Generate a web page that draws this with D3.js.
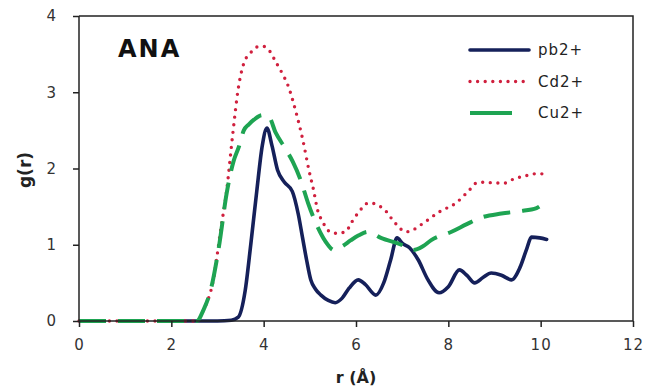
<!DOCTYPE html>
<html>
<head>
<meta charset="utf-8">
<script src="https://cdn.jsdelivr.net/npm/d3@7"></script>
<style>
  body { margin: 0; background: #fff; }
  svg { display: block; }
  .axis text { font-family: "DejaVu Sans", sans-serif; font-size: 15px; fill: #333; letter-spacing: 1px; }
  .axis path, .axis line { stroke: #222; stroke-width: 1.5; }
</style>
</head>
<body>
<svg id="chart"></svg>
<script>
let w = 646
let h = 387
let margin = { top: 16, right: 13, bottom: 66, left: 79 }

// series values
let pbR = [2.2, 3.0, 3.3, 3.45, 3.6, 3.72, 3.85, 3.97, 4.07, 4.18, 4.3, 4.45, 4.62, 4.75, 4.84, 4.93, 5.02, 5.12, 5.24, 5.4, 5.55, 5.7, 5.85, 6.05, 6.2, 6.43, 6.6, 6.75, 6.89, 7.0, 7.16, 7.35, 7.55, 7.8, 8.0, 8.24, 8.4, 8.57, 8.75, 8.93, 9.15, 9.37, 9.55, 9.7, 9.8, 9.98, 10.13]
let pbG = [0, 0, 0.01, 0.05, 0.4, 1.0, 1.7, 2.3, 2.53, 2.3, 1.98, 1.82, 1.7, 1.4, 1.1, 0.8, 0.54, 0.42, 0.34, 0.27, 0.24, 0.3, 0.43, 0.54, 0.48, 0.34, 0.5, 0.8, 1.09, 1.02, 0.96, 0.8, 0.55, 0.37, 0.45, 0.67, 0.6, 0.5, 0.57, 0.63, 0.6, 0.54, 0.7, 0.95, 1.1, 1.09, 1.07]

let cdR = [0, 2.55, 2.7, 2.91, 3.07, 3.2, 3.33, 3.45, 3.57, 3.72, 3.9, 4.0, 4.13, 4.26, 4.4, 4.52, 4.7, 4.85, 4.98, 5.08, 5.17, 5.28, 5.39, 5.57, 5.78, 5.89, 6.05, 6.28, 6.47, 6.65, 6.8, 7.09, 7.25, 7.45, 7.8, 8.17, 8.46, 8.61, 8.8, 9.0, 9.22, 9.44, 9.65, 9.85, 10.09]
let cdG = [0, 0, 0.15, 0.54, 1.2, 1.72, 2.45, 3.05, 3.38, 3.52, 3.6, 3.6, 3.54, 3.4, 3.25, 3.1, 2.74, 2.37, 1.98, 1.72, 1.45, 1.3, 1.19, 1.15, 1.17, 1.28, 1.42, 1.55, 1.52, 1.44, 1.32, 1.17, 1.2, 1.28, 1.43, 1.55, 1.72, 1.81, 1.82, 1.81, 1.81, 1.87, 1.9, 1.93, 1.93]

let cuR = [0, 2.55, 2.7, 2.85, 3.03, 3.2, 3.35, 3.46, 3.57, 3.68, 3.79, 3.97, 4.11, 4.26, 4.45, 4.63, 4.8, 4.96, 5.17, 5.39, 5.52, 5.7, 5.89, 6.05, 6.26, 6.54, 6.98, 7.24, 7.45, 7.63, 8.07, 8.4, 8.68, 9.15, 9.55, 9.91, 9.97]
let cuG = [0, 0, 0.15, 0.4, 0.97, 1.68, 2.1, 2.28, 2.5, 2.58, 2.64, 2.7, 2.68, 2.47, 2.28, 2.09, 1.85, 1.55, 1.23, 1.0, 0.93, 0.98, 1.06, 1.12, 1.17, 1.09, 1.0, 0.93, 0.98, 1.06, 1.17, 1.27, 1.35, 1.41, 1.44, 1.48, 1.5]

let xTicks = [0, 2, 4, 6, 8, 10, 12]
let yTicks = [0, 1, 2, 3, 4]
let seriesNames = ["pb2+", "Cd2+", "Cu2+"]

let series = [
    { name: seriesNames[0], r: pbR, g: pbG, color: "#15205a", width: 3.6, dash: null, cap: "round" },
    { name: seriesNames[1], r: cdR, g: cdG, color: "#d0203e", width: 3.4, dash: "0,7.6", cap: "round" },
    { name: seriesNames[2], r: cuR, g: cuG, color: "#1ea452", width: 4, dash: "27,12", cap: "butt" }
]

let svg = d3.select("#chart")
    .attr("width", w)
    .attr("height", h)

let x = d3.scaleLinear().domain([0, 12]).range([margin.left, w - margin.right])
let y = d3.scaleLinear().domain([0, 4]).range([h - margin.bottom, margin.top])

// frame (top and right sides)
svg.append("path")
    .attr("d", `M${x(0)},${y(4)}H${x(12)}V${y(0)}`)
    .attr("fill", "none")
    .attr("stroke", "#222")
    .attr("stroke-width", 1.5)

let line = d3.line()
    .x(d => x(d[0]))
    .y(d => y(d[1]))
    .curve(d3.curveMonotoneX)

let lines = svg.append("g").attr("class", "lines")
series.forEach(s => {
    lines.append("path")
        .datum(s.r.map((r, i) => [r, s.g[i]]))
        .attr("d", line)
        .attr("fill", "none")
        .attr("stroke", s.color)
        .attr("stroke-width", s.width)
        .attr("stroke-linecap", s.cap)
        .attr("stroke-linejoin", "round")
        .attr("stroke-dasharray", s.dash)
})

let xAxis = svg.append("g")
    .attr("class", "axis")
    .attr("transform", `translate(0,${y(0)})`)
    .call(d3.axisBottom(x).tickValues(xTicks).tickFormat(d3.format("d")).tickSize(6).tickPadding(12))
xAxis.select(".domain").attr("d", `M${x(0)},0H${x(12)}`)

let yAxis = svg.append("g")
    .attr("class", "axis")
    .attr("transform", `translate(${x(0)},0)`)
    .call(d3.axisLeft(y).tickValues(yTicks).tickFormat(d3.format("d")).tickSize(6).tickPadding(16))
yAxis.select(".domain").attr("d", `M0,${y(0)}V${y(4)}`)

// titles
svg.append("text")
    .attr("x", 118)
    .attr("y", 57)
    .attr("font-family", "DejaVu Sans, sans-serif")
    .attr("font-weight", "bold")
    .attr("font-size", 24)
    .attr("letter-spacing", 2)
    .attr("fill", "#111")
    .text("ANA")

svg.append("text")
    .attr("transform", `translate(31,${170}) rotate(-90)`)
    .attr("text-anchor", "middle")
    .attr("font-family", "DejaVu Sans, sans-serif")
    .attr("font-weight", "bold")
    .attr("font-size", 17)
    .attr("fill", "#222")
    .text("g(r)")

svg.append("text")
    .attr("x", x(6))
    .attr("y", 383)
    .attr("text-anchor", "middle")
    .attr("font-family", "DejaVu Sans, sans-serif")
    .attr("font-weight", "bold")
    .attr("font-size", 16)
    .attr("fill", "#222")
    .text("r (Å)")

// legend
let legend = svg.append("g").attr("class", "legend")
let legendLen = [59, 59, 42]
series.forEach((s, i) => {
    let ly = 50 + i * 31.5
    legend.append("line")
        .attr("x1", 470)
        .attr("x2", 470 + legendLen[i])
        .attr("y1", ly)
        .attr("y2", ly)
        .attr("stroke", s.color)
        .attr("stroke-width", s.width)
        .attr("stroke-linecap", s.cap)
        .attr("stroke-dasharray", i == 1 ? s.dash : null)
    legend.append("text")
        .attr("x", 538)
        .attr("y", ly)
        .attr("dy", "0.36em")
        .attr("font-family", "DejaVu Sans, sans-serif")
        .attr("font-size", 15)
        .attr("letter-spacing", 1)
        .attr("fill", "#222")
        .text(s.name)
})
</script>
</body>
</html>
